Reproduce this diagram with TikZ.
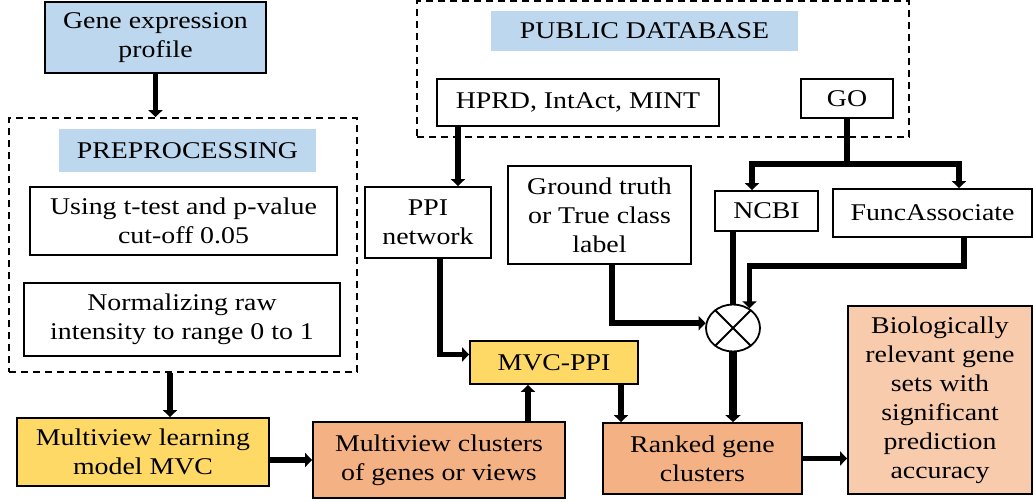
\documentclass[tikz,border=0pt]{standalone}
\usepackage{fontspec}
\setmainfont{Liberation Serif}[FakeStretch=1.16]
\usetikzlibrary{arrows.meta,shapes.geometric,calc}
\definecolor{pblue}{HTML}{BDD7EE}
\definecolor{pyellow}{HTML}{FFD966}
\definecolor{porange}{HTML}{F4B183}
\definecolor{plight}{HTML}{F8CBAD}
\begin{document}
\begin{tikzpicture}[x=1pt,y=-1pt,
  every node/.style={font=\fontsize{24}{29}\selectfont, align=center, inner sep=0pt},
  box/.style={draw=black, line width=1.8pt, rectangle},
  dbox/.style={draw=black, line width=1.8pt, dash pattern=on 7pt off 5pt, rectangle},
  lab/.style={fill=pblue, rectangle},
  conn/.style={line width=5.5pt, -{Triangle[length=7pt,width=14pt]}},
  plainline/.style={line width=5.5pt},
]
\useasboundingbox (0,0) rectangle (1034,501);

% dashed groups
\node[dbox, minimum width=348pt, minimum height=254pt] (prep) at (183,245) {};
\node[dbox, minimum width=492pt, minimum height=136pt] (pub) at (663,69) {};

% labels
\node[lab, minimum width=257pt, minimum height=43pt] (preplab) at (187.5,150.5) {PREPROCESSING};
\node[lab, minimum width=307pt, minimum height=40pt] (publab) at (644.5,31) {PUBLIC DATABASE};

% boxes
\node[box, fill=pblue, minimum width=221pt, minimum height=71pt] (gene) at (155.5,37.5) {Gene expression\\profile};
\node[box, minimum width=307pt, minimum height=68pt] (ttest) at (183.5,221) {Using t-test and p-value\\cut-off 0.05};
\node[box, minimum width=316pt, minimum height=73pt] (norm) at (182,319.5) {Normalizing raw\\intensity to range 0 to 1};
\node[box, fill=pyellow, minimum width=252pt, minimum height=68pt] (mvl) at (143,452) {Multiview learning\\model MVC};
\node[box, fill=porange, minimum width=252pt, minimum height=76pt] (clus) at (439,460) {Multiview clusters\\of genes or views};
\node[box, fill=pyellow, minimum width=168pt, minimum height=43pt] (mvcppi) at (554,362.5) {MVC-PPI};
\node[box, fill=porange, minimum width=199pt, minimum height=71pt] (ranked) at (702.5,458.5) {Ranked gene\\clusters};
\node[box, fill=plight, minimum width=184pt, minimum height=188pt] (bio) at (940,400) {Biologically\\relevant gene\\sets with\\significant\\prediction\\accuracy};
\node[box, minimum width=126pt, minimum height=71pt] (ppi) at (428,222.5) {PPI\\network};
\node[box, minimum width=282pt, minimum height=47pt] (hprd) at (578,102.5) {HPRD, IntAct, MINT};
\node[box, minimum width=92pt, minimum height=39pt] (go) at (847,98.5) {GO};
\node[box, minimum width=103pt, minimum height=40pt] (ncbi) at (766.5,211) {NCBI};
\node[box, minimum width=199pt, minimum height=48pt] (func) at (932.5,213) {FuncAssociate};
\node[box, minimum width=183pt, minimum height=98pt] (ground) at (599.5,215) {Ground truth\\or True class\\label};

% combination node
\node[draw=black, line width=1.8pt, ellipse, minimum width=54pt, minimum height=47pt] (circ) at (733,328) {};
\draw[line width=1.8pt] (circ.45) -- (circ.225);
\draw[line width=1.8pt] (circ.135) -- (circ.315);

% connectors
\draw[conn] (gene.south) -- (gene.south |- prep.north);
\draw[conn] ([xshift=27pt]mvl.north |- prep.south) -- ([xshift=27pt]mvl.north);
\draw[conn] (mvl.east |- clus.west) -- (clus.west);
\draw[conn] ([xshift=89pt]clus.north) -- ([xshift=-26pt]mvcppi.south);
\draw[conn] ([xshift=67pt]mvcppi.south) -- ([xshift=-81.5pt]ranked.north);
\draw[conn] (ranked.east) -- (ranked.east -| bio.west);
\draw[conn] ([xshift=-120pt]hprd.south) -- ([xshift=30pt]ppi.north);
\draw[conn] ([xshift=12pt]ppi.south) |- ([yshift=8pt]mvcppi.west);
\draw[plainline] (go.south) -- ++(0,45) coordinate (j);
\draw[conn] (j) -| ([xshift=-14.5pt]ncbi.north);
\draw[conn] (j) -| ([xshift=26.5pt]func.north);
\draw[plainline] (ncbi.south -| circ.north) -- (circ.north);
\draw[conn] ([xshift=31.5pt]func.south) -- ++(0,28) -| (circ.50);
\draw[conn] ([xshift=12.5pt]ground.south) |- (circ.170);
\draw[line width=8pt, -{Triangle[length=7pt,width=15pt]}] (circ.south) -- (circ.south |- ranked.north);
\end{tikzpicture}
\end{document}
